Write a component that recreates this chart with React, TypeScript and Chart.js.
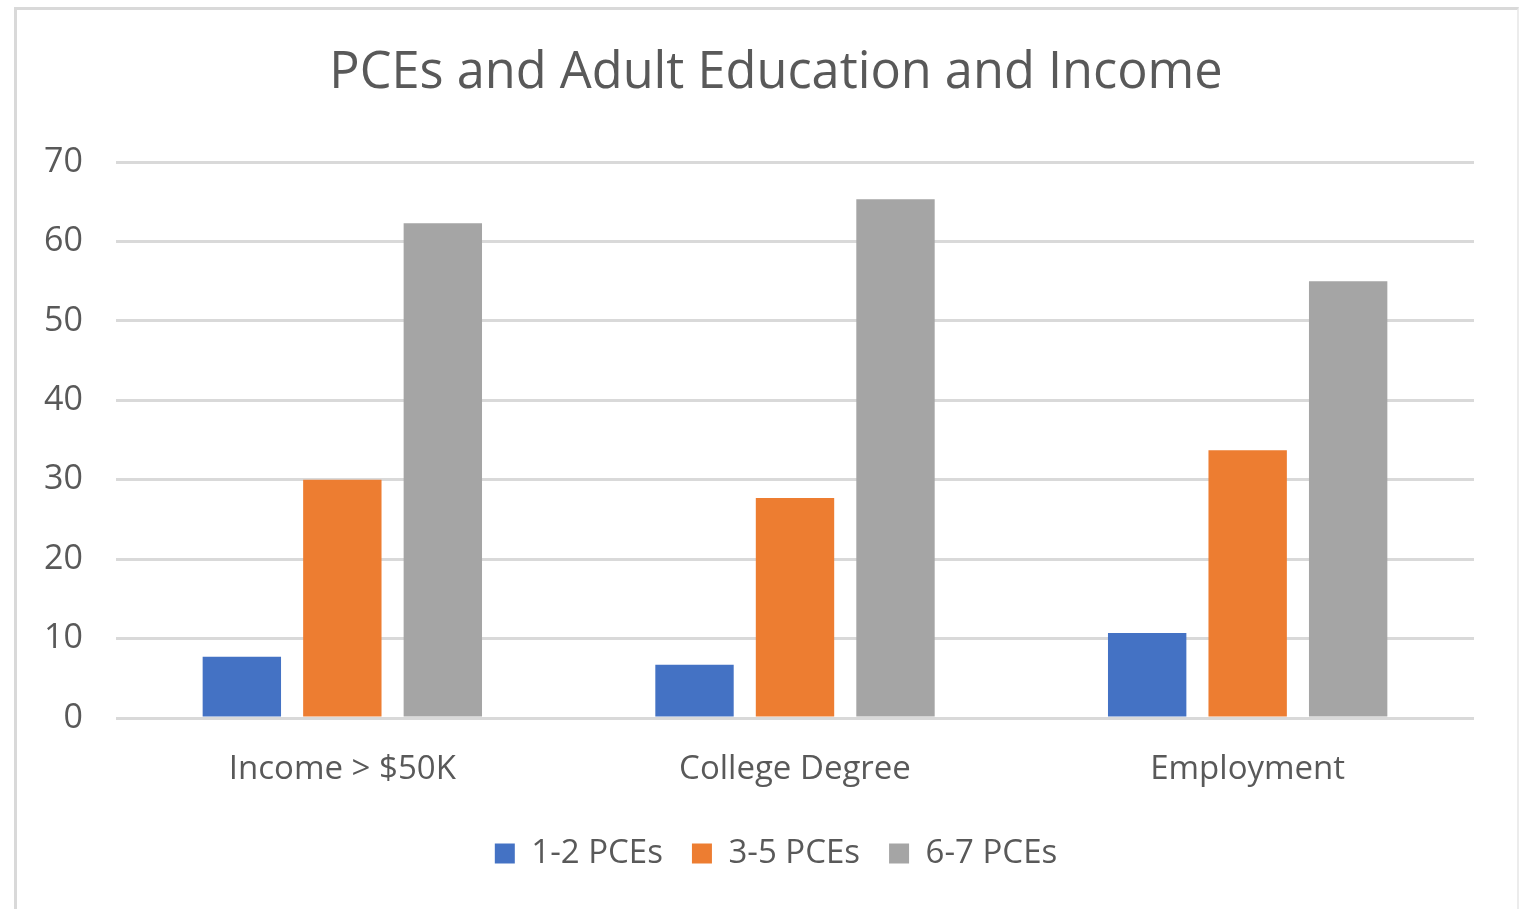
import React, { useEffect, useRef } from "react";
import { Chart, registerables } from "chart.js";

Chart.register(...registerables);

const chartTitle = "PCEs and Adult Education and Income";
const categories = ["Income > $50K", "College Degree", "Employment"];
const seriesNames = ["1-2 PCEs", "3-5 PCEs", "6-7 PCEs"];
const series12 = [7.7, 6.7, 10.7];
const series35 = [30.0, 27.7, 33.7];
const series67 = [62.3, 65.3, 55.0];
const seriesColors = ["#4472C4", "#ED7D31", "#A5A5A5"];
const yTicks = [0, 10, 20, 30, 40, 50, 60, 70];

const FONT = "'Open Sans', 'Noto Sans', sans-serif";
const TEXT = "#595959";

export default function App() {
  const ref = useRef<HTMLCanvasElement>(null);

  useEffect(() => {
    if (!ref.current) return;
    const values = [series12, series35, series67];
    const chart = new Chart(ref.current, {
      type: "bar",
      data: {
        labels: categories,
        datasets: seriesNames.map((name, i) => ({
          label: name,
          data: values[i],
          backgroundColor: seriesColors[i],
          borderWidth: 0,
          barPercentage: 0.78,
          categoryPercentage: 0.666,
        })),
      },
      options: {
        responsive: true,
        maintainAspectRatio: false,
        animation: false,
        layout: { padding: { left: 78, right: 45, top: 0, bottom: 29 } },
        plugins: {
          tooltip: { enabled: false },
          title: {
            display: true,
            text: chartTitle,
            color: TEXT,
            font: { family: FONT, size: 50.5, weight: "normal", lineHeight: 1.2 },
            padding: { top: 43, bottom: 58.4 },
          },
          legend: {
            position: "bottom",
            labels: {
              color: TEXT,
              font: { family: FONT, size: 33 },
              boxWidth: 20,
              boxHeight: 20,
              padding: 29,
            },
          },
        },
        scales: {
          x: {
            grid: { display: false, drawTicks: false },
            border: { display: false },
            ticks: {
              color: TEXT,
              font: { family: FONT, size: 33 },
              padding: 32,
            },
            afterFit: (scale: any) => {
              scale.height = 90;
            },
          },
          y: {
            min: 0,
            max: 70,
            afterBuildTicks: (scale: any) => {
              scale.ticks = yTicks.map((v) => ({ value: v }));
            },
            grid: { color: "#D9D9D9", lineWidth: 3, drawTicks: false },
            border: { display: false },
            ticks: {
              color: TEXT,
              font: { family: FONT, size: 34 },
              padding: 33,
            },
            afterFit: (scale: any) => {
              scale.width = 38;
              // let the tick labels extend left of the narrow axis box
              scale._computeLabelArea = () => undefined;
            },
          },
        },
      },
    });
    return () => chart.destroy();
  }, []);

  return (
    <div
      style={{
        position: "fixed",
        left: 0,
        top: 0,
        width: 1519,
        height: 909,
        background: "#fff",
        overflow: "hidden",
      }}
    >
      <div
        style={{
          position: "absolute",
          left: 14,
          top: 7,
          width: 1500,
          height: 920,
          borderLeft: "3px solid #D9D9D9",
          borderTop: "3px solid #D9D9D9",
          borderRight: "2px solid #ECECEC",
        }}
      />
      <canvas ref={ref} style={{ position: "absolute", left: 0, top: 0, width: 1519, height: 909 }} />
    </div>
  );
}
